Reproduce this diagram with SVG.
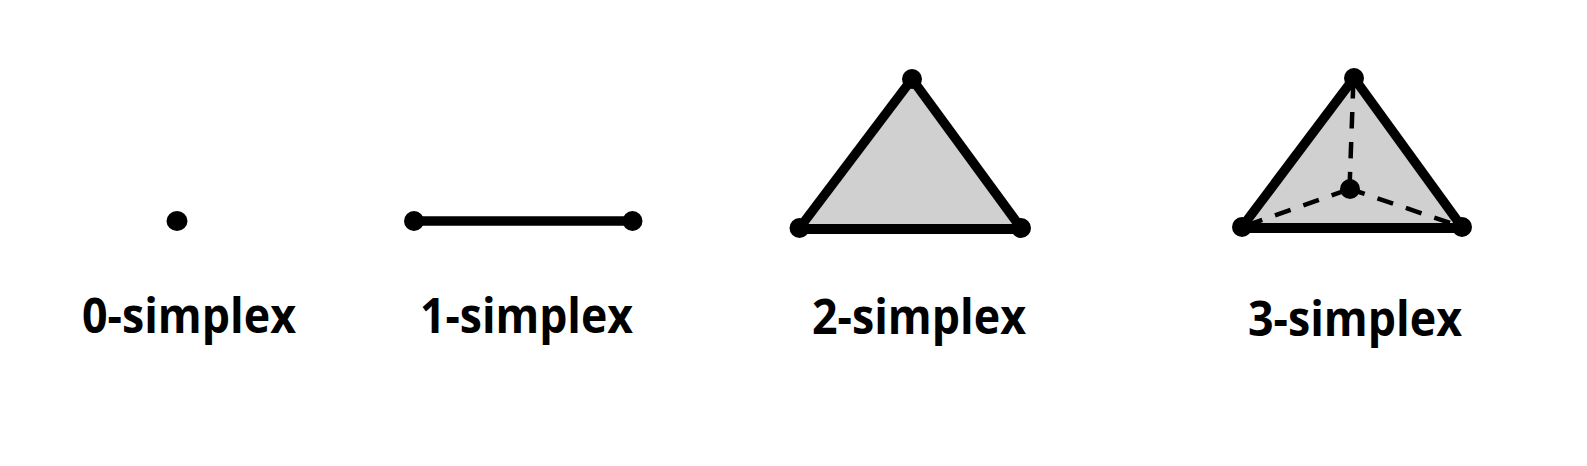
<svg xmlns="http://www.w3.org/2000/svg" width="1587" height="466" viewBox="0 0 1587 466">
<style>
.v{fill:#000}
.e{stroke:#000;stroke-width:9.5;fill:none;stroke-linecap:butt}
.b{stroke-width:10}
.f{fill:#d0d0d0;stroke:none}
.d{stroke:#000;stroke-width:4.5;fill:none;stroke-dasharray:16.5 13.5}
text{font-family:"Open Sans","Liberation Sans",sans-serif;font-weight:700;font-size:48px;fill:#000}
</style>
<rect width="1587" height="466" fill="#fff"/>
<g id="simplex-0">
<ellipse class="v" cx="177" cy="221" rx="10.5" ry="10"/>
<text x="82" y="333" textLength="214" lengthAdjust="spacingAndGlyphs">0-simplex</text>
</g>
<g id="simplex-1">
<ellipse class="v" cx="414" cy="221" rx="10" ry="10"/>
<ellipse class="v" cx="632.5" cy="221" rx="10" ry="10"/>
<text x="420" y="333" textLength="213" lengthAdjust="spacingAndGlyphs">1-simplex</text>
</g>
<g id="simplex-2">
<polygon class="f" points="912,79 799.5,229 1021,229"/>
<ellipse class="v" cx="912" cy="79" rx="10" ry="10"/>
<ellipse class="v" cx="799.5" cy="228" rx="10" ry="10"/>
<ellipse class="v" cx="1021" cy="228" rx="10" ry="10"/>
<text x="812" y="334" textLength="214" lengthAdjust="spacingAndGlyphs">2-simplex</text>
</g>
<g id="simplex-3">
<polygon class="f" points="1354,78 1242,228 1462,228"/>
<ellipse class="v" cx="1354" cy="78" rx="10" ry="10"/>
<ellipse class="v" cx="1242" cy="227" rx="10" ry="10"/>
<ellipse class="v" cx="1462" cy="227" rx="10" ry="10"/>
<ellipse class="v" cx="1350" cy="189" rx="10" ry="10"/>
<text x="1248" y="336" textLength="214" lengthAdjust="spacingAndGlyphs">3-simplex</text>
</g>
<g id="connectors">
<line class="e" x1="414" y1="221" x2="632.5" y2="221"/>
<line class="e" x1="912" y1="79" x2="799.5" y2="228"/>
<line class="e" x1="912" y1="79" x2="1021" y2="228"/>
<line class="e b" x1="799.5" y1="229" x2="1021" y2="229"/>
<line class="e" x1="1354" y1="78" x2="1242" y2="227"/>
<line class="e" x1="1354" y1="78" x2="1462" y2="227"/>
<line class="e b" x1="1242" y1="228" x2="1462" y2="228"/>
<line class="d" x1="1353.5" y1="78" x2="1349.5" y2="189" style="stroke-dashoffset:-4"/>
<line class="d" x1="1242" y1="227" x2="1350" y2="189" style="stroke-dashoffset:-5"/>
<line class="d" x1="1350" y1="189" x2="1462" y2="227" style="stroke-dashoffset:1"/>
</g>
</svg>
